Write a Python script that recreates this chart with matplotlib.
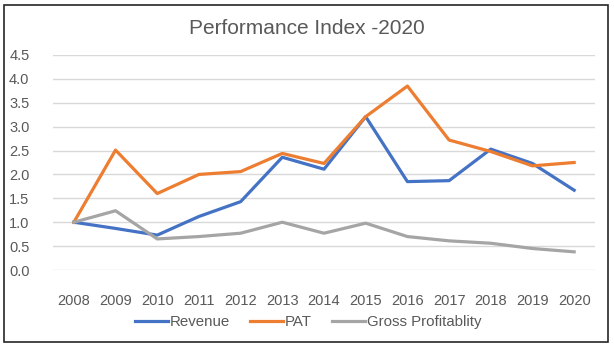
import matplotlib
matplotlib.use("Agg")
import matplotlib.pyplot as plt
from matplotlib.patches import Rectangle

years = [2008, 2009, 2010, 2011, 2012, 2013, 2014, 2015, 2016, 2017, 2018, 2019, 2020]
revenue = [1.00, 0.87, 0.73, 1.12, 1.43, 2.36, 2.11, 3.21, 1.85, 1.87, 2.53, 2.23, 1.67]
pat = [1.00, 2.51, 1.60, 2.00, 2.06, 2.44, 2.23, 3.21, 3.85, 2.72, 2.48, 2.18, 2.25]
gross = [1.00, 1.24, 0.65, 0.70, 0.77, 1.00, 0.77, 0.98, 0.70, 0.61, 0.56, 0.45, 0.38]
yticks = [0.0, 0.5, 1.0, 1.5, 2.0, 2.5, 3.0, 3.5, 4.0, 4.5]

plt.rcParams['font.family'] = ['Liberation Sans', 'DejaVu Sans']
txt = '#595959'

fig = plt.figure(figsize=(6.14, 3.46), dpi=100)
fig.patches.append(Rectangle((3.5/614, 4.5/346), 604.5/614, 337/346, transform=fig.transFigure,
                             fill=False, edgecolor='#262626', linewidth=1.2))
ax = fig.add_axes([53/614, 1-270/346, 542/614, (270-55)/346])

ax.plot(years, revenue, color='#4472C4', lw=2.3, label='Revenue', solid_joinstyle='round')
ax.plot(years, pat, color='#ED7D31', lw=2.3, label='PAT', solid_joinstyle='round')
ax.plot(years, gross, color='#A5A5A5', lw=2.3, label='Gross Profitablity', solid_joinstyle='round')

ax.set_xlim(2007.5, 2020.5)
ax.set_ylim(0, 4.5)
ax.set_yticks(yticks)
ax.set_yticklabels([f'{v:.1f}' for v in yticks])
ax.set_xticks(years)
ax.set_xticklabels([str(y) for y in years])
ax.grid(axis='y', color='#D9D9D9', lw=1)
ax.set_axisbelow(True)
for s in ax.spines.values():
    s.set_visible(False)
ax.tick_params(axis='both', length=0, labelsize=10.5, colors=txt)
ax.tick_params(axis='y', pad=17)
ax.tick_params(axis='x', pad=17)

fig.text(0.5, 1-28/346, 'Performance Index -2020', ha='center', va='center',
         fontsize=15, color=txt)

fig.legend(loc='center', bbox_to_anchor=(0.502, 1-322/346), ncol=3, frameon=False,
           fontsize=10.8, labelcolor=txt, handlelength=2.2, handletextpad=0.15,
           columnspacing=1.3)

fig.savefig('out.png', dpi=100)
